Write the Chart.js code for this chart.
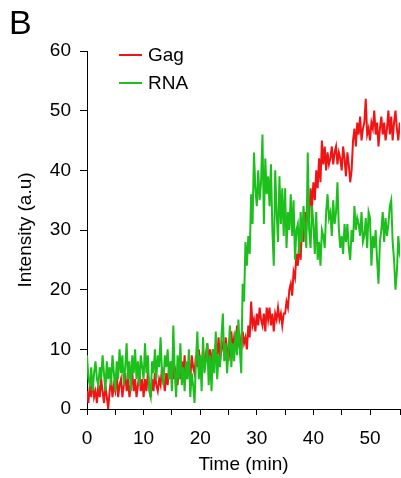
<!DOCTYPE html>
<html>
<head>
<meta charset="utf-8">
<script src="https://cdn.jsdelivr.net/npm/chart.js@4/dist/chart.umd.min.js"></script>
<style>
  html, body { margin: 0; padding: 0; background: #fff; }
  #wrap { width: 401px; height: 478px; position: relative; }
</style>
</head>
<body>
<div id="wrap"><canvas id="c" width="401" height="478"></canvas></div>
<script>
// ---- data (time step 0.25 min) ----
const panelLabel = 'B';
const xTitle = 'Time (min)';
const yTitle = 'Intensity (a.u)';
const seriesNames = ['Gag', 'RNA'];
const timeStep = 0.25;
const xTicks = [0, 10, 20, 30, 40, 50];
const yTicks = [0, 10, 20, 30, 40, 50, 60];

const gag = [
  3, 1, 4, 2,   5, 2, 3, 1,   4, 2, 5, 3,   1, 4, 2, 0,   3, 5, 2, 4,
  3, 6, 2, 4,   5, 2, 4, 6,   3, 5, 2, 4,   6, 3, 5, 2,   4, 6, 3, 5,
  2, 5, 3, 6,   4, 2, 5, 3,   6, 4, 3, 5,   4, 7, 5, 3,   6, 4, 7, 5,
  8, 5, 7, 6,   4, 7, 5, 8,   6, 9, 5, 7,   8, 5, 9, 7,   6, 9, 7, 10,
  8, 6, 10, 7,  9, 11, 8, 10, 7, 10, 8, 11, 9, 12, 8, 10,  11, 9, 12, 10,
  8, 11, 13, 10, 12, 10, 14, 11, 12, 10, 13, 11, 12, 10, 14, 12, 18, 14, 15, 13,
  16, 14, 17, 15, 14, 16, 13, 17, 15, 17, 14, 16, 13, 16, 15, 17, 15, 16, 14, 16,
  16, 18, 17, 20, 21, 19, 23, 22, 26, 24, 28, 25, 31, 28, 33, 30, 35, 32, 37, 34,
  38, 35, 40, 37, 42, 38, 45, 41, 44, 40, 43, 41, 42, 44, 41, 43, 44, 41, 43, 42,
  40, 44, 42, 39, 43, 41, 38, 40, 45, 47, 44, 48, 46, 49, 45, 47, 48, 52, 46, 47,
  45, 48, 47, 50, 46, 48, 44, 47, 49, 46, 48, 45, 47, 50, 46, 49, 45, 48, 50, 47,
  45, 48, 46
];

const rna = [
  9, 5, 4, 7,   3, 6, 8, 5,   4, 7, 5, 9,   6, 3, 8, 5,   7, 4, 9, 6,
  3, 8, 5, 10,  6, 9, 4, 7,   11, 5, 8, 3,  9, 6, 10, 5,  8, 4, 9, 7,
  5, 11, 6, 9,  3, 2, 8, 6,   10, 5, 9, 7,  12, 6, 4, 9,  7, 10, 5, 8,
  3, 14, 6, 2,  9, 5, 11, 4,  7, 3, 8, 5,   10, 2, 6, 4,  1, 8, 13, 5,
  9, 3, 12, 6,  8, 11, 4, 9,  3, 10, 6, 13, 5, 9, 7, 12,  16, 8, 11, 6,
  10, 14, 7, 11, 8, 13, 9, 15, 10, 6, 21, 18, 28, 24, 29, 26, 36, 31, 43, 37,
  34, 40, 35, 38, 46, 31, 42, 36, 39, 34, 41, 30, 24, 40, 33, 28, 39, 31, 37, 29,
  37, 27, 33, 30, 36, 29, 35, 25, 30, 31, 26, 33, 28, 34, 30, 27, 43, 30, 27, 34,
  31, 26, 33, 25, 28, 24, 30, 29, 27, 33, 36, 32, 33, 29, 35, 31, 33, 38, 30, 27,
  29, 26, 31, 28, 31, 27, 25, 30, 28, 34, 30, 32, 31, 29, 33, 28, 29, 32, 27, 33,
  32, 24, 29, 27, 30, 25, 21, 28, 30, 33, 28, 32, 29, 31, 34, 35, 28, 25, 20, 23,
  29, 26, 25
];

const colors = ['#f01414', '#1cbf1c'];
const FONT = '"Liberation Sans", Arial, Helvetica, sans-serif';

function toPoints(arr) { return arr.map((v, i) => ({ x: i * timeStep, y: v })); }

const extras = {
  id: 'extras',
  afterDraw(chart) {
    const ctx = chart.ctx;
    const area = chart.chartArea;
    ctx.save();
    // panel label
    ctx.fillStyle = '#000';
    ctx.font = '34px ' + FONT;
    ctx.textBaseline = 'alphabetic';
    ctx.textAlign = 'left';
    ctx.fillText(panelLabel, 9, 34);
    // legend (in legend order Gag, RNA)
    ctx.font = '19px ' + FONT;
    const lx = area.left + 32, ly0 = area.top + 4, gap = 28;
    seriesNames.forEach((name, i) => {
      const y = ly0 + i * gap;
      ctx.strokeStyle = colors[i];
      ctx.lineWidth = 2;
      ctx.beginPath();
      ctx.moveTo(lx, y);
      ctx.lineTo(lx + 23, y);
      ctx.stroke();
      ctx.fillStyle = '#000';
      ctx.textBaseline = 'middle';
      ctx.fillText(name, lx + 29, y + 1);
    });
    ctx.restore();
  }
};

new Chart(document.getElementById('c'), {
  type: 'line',
  data: {
    datasets: [
      { label: seriesNames[0], data: toPoints(gag), borderColor: colors[0], borderWidth: 2, pointRadius: 0, tension: 0, order: 1 },
      { label: seriesNames[1], data: toPoints(rna), borderColor: colors[1], borderWidth: 2, pointRadius: 0, tension: 0, order: 0 }
    ]
  },
  options: {
    responsive: false,
    animation: false,
    events: [],
    layout: { padding: { top: 51, right: 1, left: 0, bottom: 0 } },
    plugins: { legend: { display: false }, tooltip: { enabled: false } },
    scales: {
      x: {
        type: 'linear',
        min: 0,
        max: 55.3,
        border: { display: true, color: '#000', width: 1 },
        grid: { drawOnChartArea: false, color: '#000', tickLength: 6, tickWidth: 1 },
        ticks: {
          stepSize: 5,
          autoSkip: false,
          maxRotation: 0,
          color: '#000',
          font: { family: FONT, size: 19 },
          padding: 12,
          callback: (v) => (xTicks.includes(v) ? String(v) : '')
        },
        title: { display: true, text: xTitle, color: '#000', font: { family: FONT, size: 19 }, padding: { top: 0, bottom: 2 } },
        afterFit: (s) => { s.height = 69; s.paddingLeft = 0; s.paddingRight = 0; }
      },
      y: {
        min: 0,
        max: 60,
        border: { display: true, color: '#000', width: 1 },
        grid: { drawOnChartArea: false, color: '#000', tickLength: 7, tickWidth: 1 },
        ticks: {
          stepSize: 10,
          color: '#000',
          font: { family: FONT, size: 19 },
          padding: 9,
          callback: (v) => (yTicks.includes(v) ? String(v) : '')
        },
        title: { display: true, text: yTitle, color: '#000', font: { family: FONT, size: 19 }, padding: { top: 14, bottom: 0 } },
        afterFit: (s) => { s.width = 87; s.paddingTop = 0; s.paddingBottom = 0; }
      }
    }
  },
  plugins: [extras]
});
</script>
</body>
</html>
